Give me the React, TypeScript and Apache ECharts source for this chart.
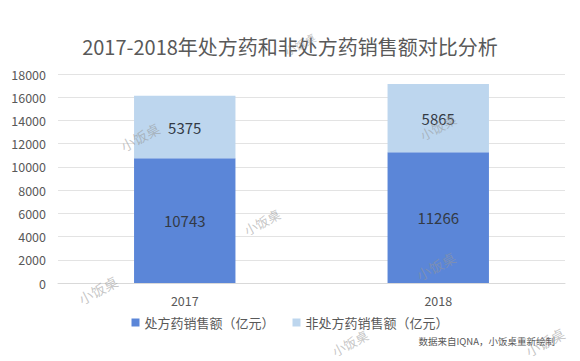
import React, { useEffect, useRef } from "react";
import * as echarts from "echarts";

const categories = ["2017", "2018"];
const rxSales = [10743, 11266];
const otcSales = [5375, 5865];
const seriesNames = ["处方药销售额（亿元）", "非处方药销售额（亿元）"];
const titleText = "2017-2018年处方药和非处方药销售额对比分析";
const footerText = "数据来自IQNA，小饭桌重新绘制";
const watermarkText = "小饭桌";

const FONT = "'Noto Sans CJK SC', 'Noto Sans', sans-serif";

export default function App() {
  const ref = useRef<HTMLDivElement>(null);
  useEffect(() => {
    if (!ref.current) return;
    const chart = echarts.init(ref.current, null, { renderer: "svg" });
    const wm = (x: number, y: number, size = 13) => ({
      type: "text",
      x,
      y,
      rotation: (28 * Math.PI) / 180,
      z: 100,
      style: {
        text: watermarkText,
        fill: "rgba(150,150,150,0.55)",
        font: `${size}px ${FONT}`,
        textAlign: "center",
        textVerticalAlign: "middle",
      },
    });
    chart.setOption({
      animation: false,
      backgroundColor: "#ffffff",
      textStyle: { fontFamily: FONT },
      title: {
        text: titleText,
        left: "center",
        top: 31,
        textStyle: { fontSize: 20, fontWeight: "normal", color: "#595959", fontFamily: FONT },
      },
      grid: { left: 58, right: 15, top: 74, bottom: 78 },
      legend: {
        bottom: 27,
        left: "center",
        itemWidth: 8,
        itemHeight: 8,
        itemGap: 18,
        icon: "rect",
        textStyle: { fontSize: 13, color: "#595959", fontFamily: FONT },
        data: seriesNames,
      },
      xAxis: {
        type: "category",
        data: categories,
        axisLine: { show: true, lineStyle: { color: "#d9d9d9" } },
        axisTick: { show: false },
        axisLabel: { fontSize: 12.5, color: "#595959", margin: 11 },
      },
      yAxis: {
        type: "value",
        min: 0,
        max: 18000,
        interval: 2000,
        axisLine: { show: false },
        axisTick: { show: false },
        axisLabel: { fontSize: 12.5, color: "#595959", margin: 12, formatter: (v: number) => String(v) },
        splitLine: { lineStyle: { color: "#e3e3e3" } },
      },
      series: [
        {
          name: seriesNames[0],
          type: "bar",
          stack: "total",
          data: rxSales,
          barWidth: "40%",
          itemStyle: { color: "#5b86d8" },
          label: { show: true, position: "inside", fontSize: 15, color: "#333a45" },
        },
        {
          name: seriesNames[1],
          type: "bar",
          stack: "total",
          data: otcSales,
          barWidth: "40%",
          itemStyle: { color: "#bdd6ee" },
          label: { show: true, position: "inside", fontSize: 15, color: "#333a45" },
        },
      ],
      graphic: [
        wm(140, 137, 14),
        wm(262, 222, 13),
        wm(438, 127, 13),
        wm(98, 290, 14),
        wm(436, 266, 14),
        wm(350, 343, 13),
        wm(545, 342, 14),
        wm(300, 44, 11),
        {
          type: "text",
          right: 25,
          top: 336,
          style: { text: footerText, fill: "#595959", font: `9.5px ${FONT}` },
        },
      ],
    });
    return () => chart.dispose();
  }, []);
  return <div ref={ref} style={{ width: 580, height: 361, position: "absolute", left: 0, top: 0 }} />;
}
